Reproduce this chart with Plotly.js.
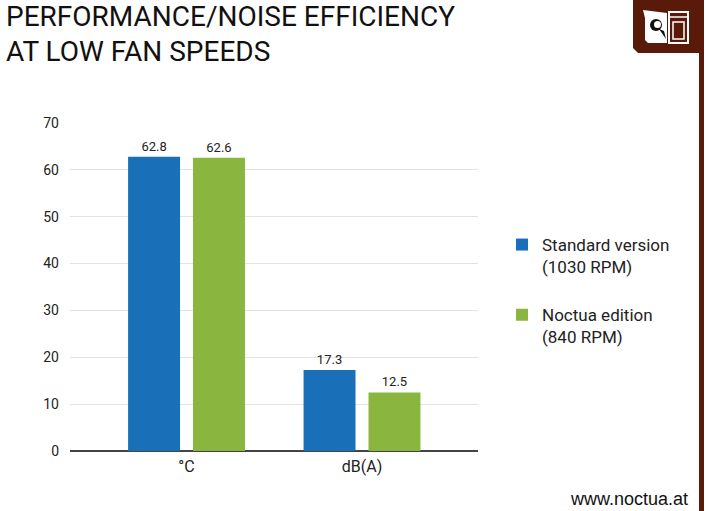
<!DOCTYPE html>
<html>
<head>
<meta charset="utf-8">
<script src="https://cdn.plot.ly/plotly-3.0.1.min.js"></script>
<style>
  html, body { margin: 0; padding: 0; background: #fff; }
  #chart { width: 708px; height: 511px; }
</style>
</head>
<body>
<div id="chart"></div>
<script>
// categories and values
var categories = ['°C', 'dB(A)'];
var standardValues = [62.8, 17.3];
var noctuaValues = [62.6, 12.5];
var seriesNames = ['Standard version<br>(1030 RPM)', 'Noctua edition<br>(840 RPM)'];
var yTicks = [0, 10, 20, 30, 40, 50, 60, 70];
var titleLines = ['PERFORMANCE/NOISE EFFICIENCY', 'AT LOW FAN SPEEDS'];

var blue = '#1a70b8';
var green = '#8ab63f';
var brown = '#5a1a0a';
var font = 'Roboto, "Noto Sans", sans-serif';

// plot area in pixels, used to place decorations
var PL = 70, PR = 478, PT = 123, PB = 451;
function px(x) { return (x - PL) / (PR - PL); }
function py(y) { return (PB - y) / (PB - PT); }
function pathOf(pts) {
    return 'M' + pts.map(function (p) { return px(p[0]) + ',' + py(p[1]); }).join('L') + 'Z';
}

var standard = {
    x: categories,
    y: standardValues,
    type: 'bar',
    name: seriesNames[0],
    legendgroup: 'a',
    marker: {color: blue},
    text: standardValues.map(function (v) { return v.toFixed(1); }),
    textposition: 'outside',
    textfont: {size: 13, color: '#222', family: font},
    cliponaxis: false,
    hoverinfo: 'none'
};

var noctua = {
    x: categories,
    y: noctuaValues,
    type: 'bar',
    name: seriesNames[1],
    legendgroup: 'b',
    marker: {color: green},
    text: noctuaValues.map(function (v) { return v.toFixed(1); }),
    textposition: 'outside',
    textfont: {size: 13, color: '#222', family: font},
    cliponaxis: false,
    hoverinfo: 'none'
};

var titleAnnotations = titleLines.map(function (line, i) {
    return {text: line, xref: 'paper', yref: 'paper', x: px(4), y: py(17 + i * 34),
            xanchor: 'left', yanchor: 'middle', showarrow: false,
            font: {size: 28, color: '#111', family: font}};
});

var layout = {
    width: 708,
    height: 511,
    margin: {l: PL, r: 708 - PR, t: PT, b: 511 - PB},
    paper_bgcolor: '#fff',
    plot_bgcolor: '#fff',
    font: {family: font, color: '#222'},
    barmode: 'group',
    bargap: 0.26,
    bargroupgap: 0.2,
    showlegend: true,
    legend: {
        x: px(502), y: py(227), xanchor: 'left', yanchor: 'top',
        font: {size: 17, color: '#222', family: font},
        valign: 'top',
        tracegroupgap: 23,
        bgcolor: 'rgba(0,0,0,0)'
    },
    xaxis: {
        range: [-0.664, 1.661],
        showgrid: false,
        showline: false,
        ticks: '',
        ticklabelstandoff: 4,
        tickfont: {size: 16, color: '#222'},
        fixedrange: true
    },
    yaxis: {
        range: [0, 70],
        tickvals: yTicks,
        showgrid: true,
        gridcolor: '#e3e3e3',
        gridwidth: 1,
        zeroline: true,
        zerolinecolor: '#444',
        zerolinewidth: 2,
        ticks: '',
        ticklabelstandoff: 10,
        tickfont: {size: 14, color: '#222'},
        fixedrange: true
    },
    shapes: [
        // brown bar on the right edge
        {type: 'rect', xref: 'paper', yref: 'paper', x0: px(699), x1: px(704), y0: py(0), y1: py(511),
         fillcolor: brown, line: {width: 0}, layer: 'above'},
        // logo box
        {type: 'path', xref: 'paper', yref: 'paper',
         path: pathOf([[633, 0], [704, 0], [704, 53], [638, 53], [633, 48]]),
         fillcolor: brown, line: {width: 0}},
        // owl face (white half)
        {type: 'path', xref: 'paper', yref: 'paper',
         path: pathOf([[643, 10], [667, 13], [667, 43], [648, 43], [645, 40], [645, 18]]),
         fillcolor: '#fff', line: {width: 0}},
        // eye
        {type: 'circle', xref: 'paper', yref: 'paper', x0: px(650), x1: px(662), y0: py(31), y1: py(19),
         fillcolor: '#111', line: {width: 0}},
        {type: 'circle', xref: 'paper', yref: 'paper', x0: px(654), x1: px(661), y0: py(28), y1: py(21),
         fillcolor: '#fff', line: {width: 0}},
        // beak
        {type: 'path', xref: 'paper', yref: 'paper',
         path: pathOf([[659, 29], [664, 31], [666, 39]]),
         fillcolor: '#111', line: {width: 0}},
        // right half outline
        {type: 'path', xref: 'paper', yref: 'paper',
         path: pathOf([[669, 12], [688, 12], [688, 43], [669, 43]]),
         fillcolor: 'rgba(0,0,0,0)', line: {color: '#fff', width: 2}},
        {type: 'line', xref: 'paper', yref: 'paper', x0: px(669), x1: px(688), y0: py(17), y1: py(17),
         line: {color: '#fff', width: 1.5}},
        {type: 'path', xref: 'paper', yref: 'paper',
         path: pathOf([[673, 22], [684, 22], [684, 39], [673, 39]]),
         fillcolor: 'rgba(0,0,0,0)', line: {color: '#fff', width: 1.5}}
    ],
    annotations: titleAnnotations.concat([
        {text: 'www.noctua.at', xref: 'paper', yref: 'paper', x: px(690), y: py(499),
         xanchor: 'right', yanchor: 'middle', showarrow: false,
         font: {size: 18, color: '#111', family: '"Liberation Sans", Arial, sans-serif'}}
    ])
};

Plotly.newPlot('chart', [standard, noctua], layout, {displayModeBar: false, staticPlot: true});
</script>
</body>
</html>
